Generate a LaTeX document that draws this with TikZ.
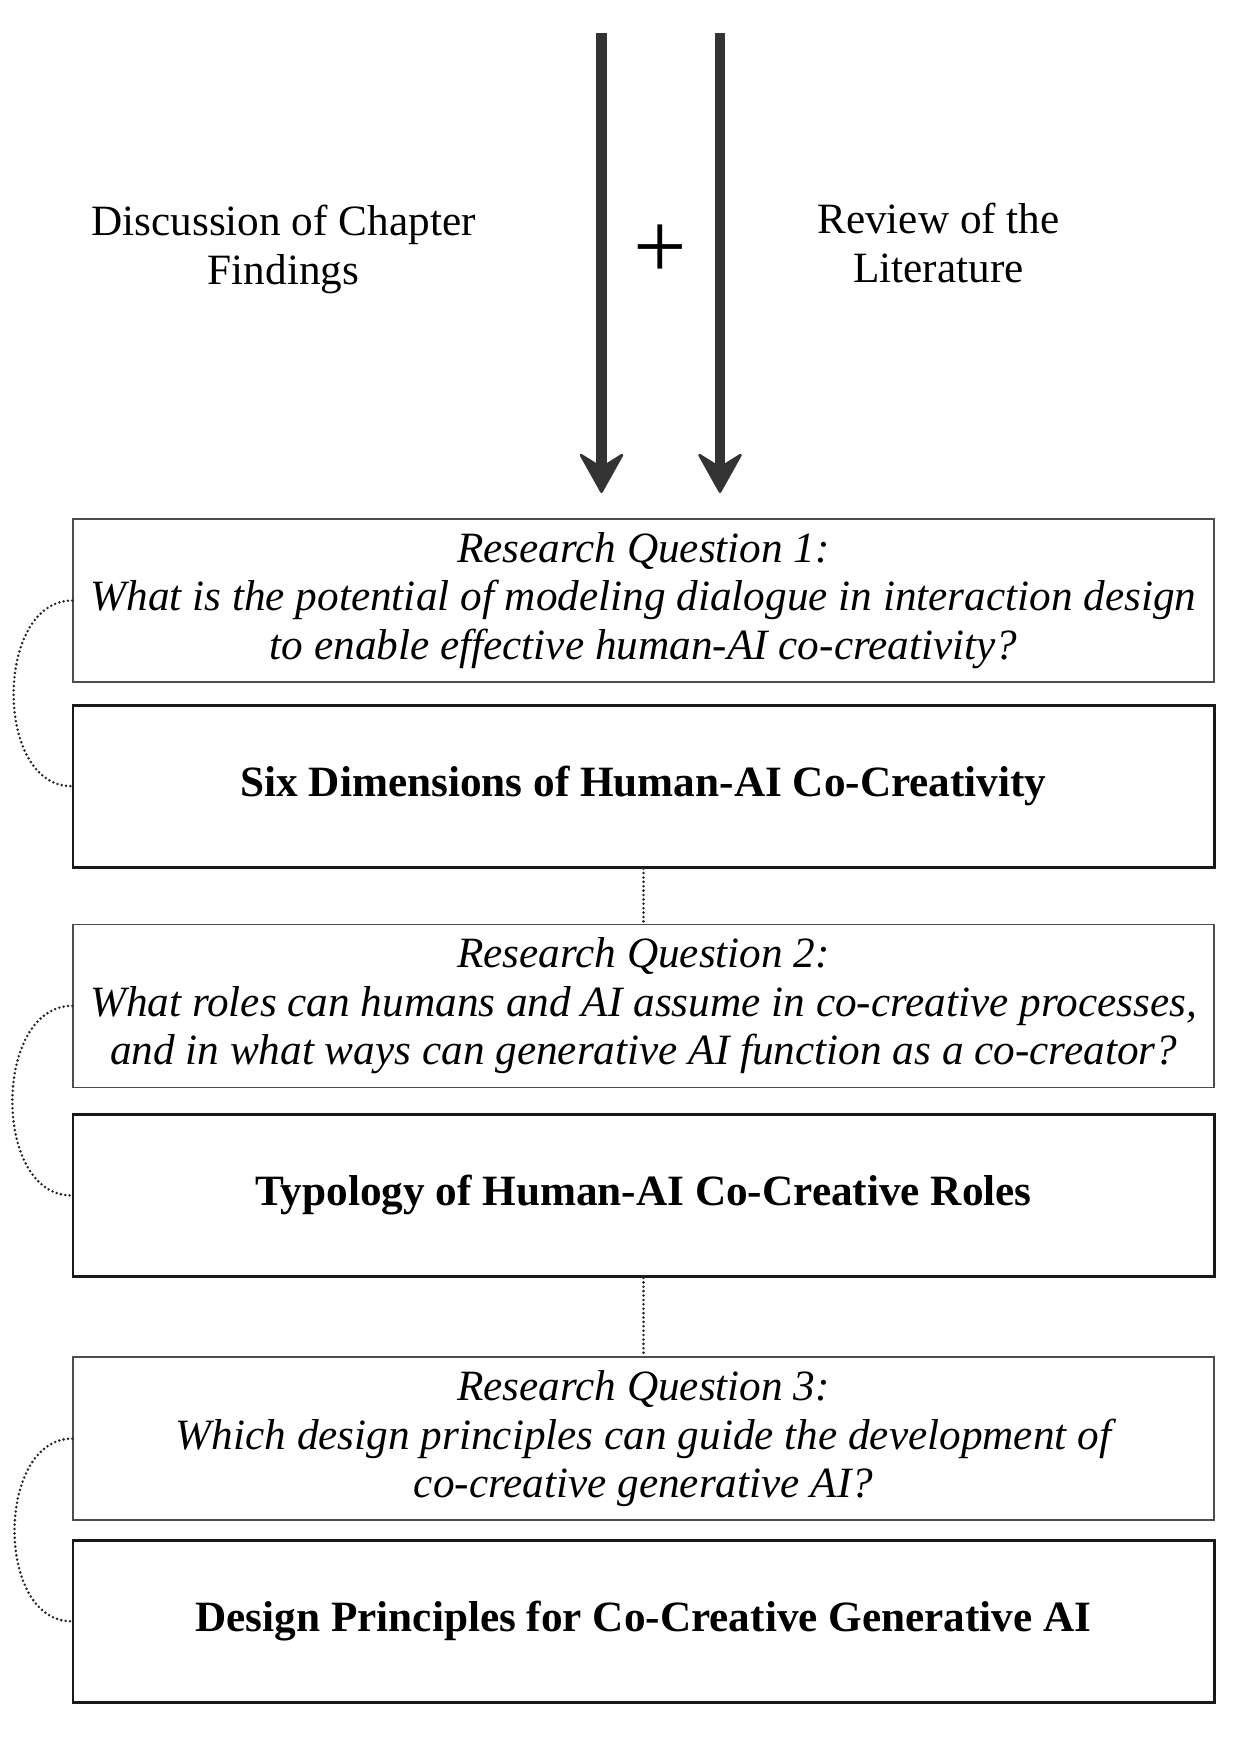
\documentclass[tikz,border=0pt]{standalone}
\usepackage{fontspec}
\setmainfont{Liberation Serif}
\usepackage{xcolor}
\usetikzlibrary{arrows.meta, positioning}

\definecolor{arrowgray}{HTML}{333333}
\definecolor{boxgray}{HTML}{4D4D4D}

\begin{document}
\begin{tikzpicture}[
    node distance=0.5cm,
    every node/.style={font=\fontsize{24.6pt}{27.8pt}\selectfont},
    qbox/.style={rectangle, draw=boxgray, line width=0.75pt, minimum width=22.82cm, minimum height=3.26cm, align=center, font=\fontsize{24.6pt}{27.6pt}\selectfont\itshape},
    abox/.style={rectangle, draw=black!90, line width=1.7pt, minimum width=22.82cm, minimum height=3.24cm, align=center, font=\fontsize{24.6pt}{27.6pt}\selectfont\bfseries},
    arrow/.style={-{Stealth[length=0.86cm, width=0.96cm, inset=0.3cm, round, line width=1.5pt]}, line width=6pt, draw=arrowgray},
    link/.style={draw=black!85, line width=1.6pt, dash pattern=on 0pt off 2.5pt, line cap=round}
]
\useasboundingbox (0,0) rectangle (24.88,-34.92);

% sources
\node[align=center] (findings) at (5.67,-4.99) {Discussion of Chapter\\Findings};
\node[align=center] (review) at (18.77,-4.86) {Review of the\\Literature};
\node (plus) at (13.2,-5.04) {\fontsize{54pt}{54pt}\selectfont +};

\coordinate (lsrc) at (12.03,-0.66);
\coordinate (ltip) at (12.03,-9.86);
\coordinate (rsrc) at (14.40,-0.66);
\coordinate (rtip) at (14.40,-9.86);
\draw[arrow] (lsrc) -- (ltip);
\draw[arrow] (rsrc) -- (rtip);

% questions and outcomes
\node[qbox] (rq1) at (12.87,-12.01) {Research Question 1:\\What is the potential of modeling dialogue in interaction design\\to enable effective human-AI co-creativity?};
\node[abox, below=0.42cm of rq1] (dims) {Six Dimensions of Human-AI Co-Creativity};
\node[qbox, below=1.1cm of dims] (rq2) {Research Question 2:\\What roles can humans and AI assume in co-creative processes,\\and in what ways can generative AI function as a co-creator?};
\node[abox, below=0.5cm of rq2] (roles) {Typology of Human-AI Co-Creative Roles};
\node[qbox, below=1.57cm of roles] (rq3) {Research Question 3:\\Which design principles can guide the development of\\co-creative generative AI?};
\node[abox, below=0.36cm of rq3] (principles) {Design Principles for Co-Creative Generative AI};

\draw[link] (dims) -- (rq2);
\draw[link] (roles) -- (rq3);
\draw[link] (rq1.west) to[out=180, in=180, looseness=1.07] (dims.west);
\draw[link] (rq2.west) to[out=180, in=180, looseness=1.07] (roles.west);
\draw[link] (rq3.west) to[out=180, in=180, looseness=1.07] (principles.west);
\end{tikzpicture}
\end{document}
